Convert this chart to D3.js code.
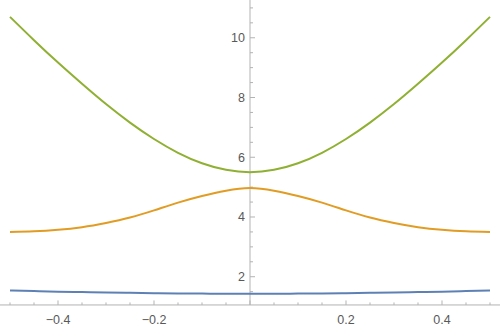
<!DOCTYPE html>
<html>
<head>
<meta charset="utf-8">
<script src="https://cdn.jsdelivr.net/npm/d3@7"></script>
<style>
  body { margin: 0; background: #fff; }
  svg { display: block; }
  .tick-label { font-family: "Liberation Sans", Arial, sans-serif; font-size: 12.5px; fill: #595959; }
</style>
</head>
<body>
<svg id="chartSvg" width="500" height="327"></svg>
<script>
// values
const xValues = [-0.5, -0.45, -0.4, -0.35, -0.3, -0.25, -0.2, -0.15, -0.1, -0.05, 0,
                 0.05, 0.1, 0.15, 0.2, 0.25, 0.3, 0.35, 0.4, 0.45, 0.5];
const blueValues = [1.54, 1.52, 1.50, 1.485, 1.47, 1.46, 1.45, 1.44, 1.435, 1.43, 1.43,
                    1.43, 1.435, 1.44, 1.45, 1.46, 1.47, 1.485, 1.50, 1.52, 1.54];
const orangeValues = [3.50, 3.52, 3.57, 3.66, 3.80, 3.98, 4.22, 4.48, 4.70, 4.88, 4.97,
                      4.88, 4.70, 4.48, 4.22, 3.98, 3.80, 3.66, 3.57, 3.52, 3.50];
const greenValues = [10.70, 9.92, 9.17, 8.46, 7.78, 7.16, 6.61, 6.15, 5.80, 5.58, 5.50,
                     5.58, 5.80, 6.15, 6.61, 7.16, 7.78, 8.46, 9.17, 9.92, 10.70];
const xTickLabels = [-0.4, -0.2, 0.2, 0.4];
const yTickLabels = [2, 4, 6, 8, 10];

const series = [
  { values: blueValues, color: "#5e81b5" },
  { values: orangeValues, color: "#e19c24" },
  { values: greenValues, color: "#8fb032" }
];

const W = 500, H = 327;
const axisColor = "#b3b3b3";
const axisOriginY = 1.055;

const svg = d3.select("#chartSvg");

const x = d3.scaleLinear().domain([-0.5, 0.5]).range([10, 490]);
const y = d3.scaleLinear().domain([1, 11]).range([306.6, 7.9]);

const x0 = x(0), yAxisPos = y(axisOriginY);

// x axis line + ticks (ticks point up into the plot)
svg.append("line")
    .attr("x1", 0).attr("x2", W)
    .attr("y1", yAxisPos).attr("y2", yAxisPos)
    .attr("stroke", axisColor).attr("stroke-width", 1);

d3.range(-10, 11).forEach(i => {
    const v = i * 0.05;
    const major = i % 4 === 0;
    svg.append("line")
        .attr("x1", x(v)).attr("x2", x(v))
        .attr("y1", yAxisPos).attr("y2", yAxisPos - (major ? 4.5 : 2.5))
        .attr("stroke", axisColor).attr("stroke-width", 1);
});

svg.selectAll(".xlab")
    .data(xTickLabels)
    .enter().append("text")
    .attr("class", "tick-label")
    .attr("x", d => x(d))
    .attr("y", 320)
    .attr("text-anchor", "middle")
    .attr("dy", "0.35em")
    .text(d => d3.format(".1f")(d).replace("-", "\u2212"));

// y axis line + ticks (ticks point right)
svg.append("line")
    .attr("x1", x0).attr("x2", x0)
    .attr("y1", 0).attr("y2", yAxisPos)
    .attr("stroke", axisColor).attr("stroke-width", 1);

d3.range(3, 23).forEach(i => {
    const v = i * 0.5;
    const major = i % 4 === 0;
    svg.append("line")
        .attr("x1", x0).attr("x2", x0 + (major ? 5 : 3))
        .attr("y1", y(v)).attr("y2", y(v))
        .attr("stroke", axisColor).attr("stroke-width", 1);
});

svg.selectAll(".ylab")
    .data(yTickLabels)
    .enter().append("text")
    .attr("class", "tick-label")
    .attr("x", x0 - 5)
    .attr("y", d => y(d))
    .attr("text-anchor", "end")
    .attr("dy", "0.35em")
    .text(d => d);

// curves
const line = d3.line()
    .x((d, i) => x(xValues[i]))
    .y(d => y(d))
    .curve(d3.curveNatural);

series.forEach(s => {
    svg.append("path")
        .datum(s.values)
        .attr("fill", "none")
        .attr("stroke", s.color)
        .attr("stroke-width", 2)
        .attr("stroke-linejoin", "round")
        .attr("d", line);
});
</script>
</body>
</html>
